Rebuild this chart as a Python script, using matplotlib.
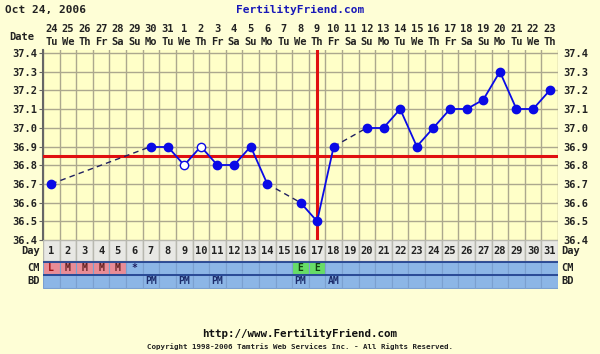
import matplotlib.pyplot as plt
import numpy as np

# cycle days and temperatures (Celsius)
cycle_days = np.arange(1, 32)
dates = [24, 25, 26, 27, 28, 29, 30, 31, 1, 2, 3, 4, 5, 6, 7, 8,
         9, 10, 11, 12, 13, 14, 15, 16, 17, 18, 19, 20, 21, 22, 23]
weekdays = ["Tu", "We", "Th", "Fr", "Sa", "Su", "Mo"] * 5
weekdays = weekdays[:31]

temp_days = [1, 7, 8, 9, 10, 11, 12, 13, 14, 16, 17, 18, 20, 21, 22, 23,
             24, 25, 26, 27, 28, 29, 30, 31]
temps = [36.7, 36.9, 36.9, 36.8, 36.9, 36.8, 36.8, 36.9, 36.7, 36.6, 36.5, 36.9,
         37.0, 37.0, 37.1, 36.9, 37.0, 37.1, 37.1, 37.15, 37.3, 37.1, 37.1, 37.2]
open_days = [9, 10]          # discarded temps (hollow markers)

coverline = 36.85
ovulation_day = 17

cm_days = [1, 2, 3, 4, 5, 6, 16, 17]
cm_text = ["L", "M", "M", "M", "M", "*", "E", "E"]
bd_days = [7, 9, 11, 16, 18]
bd_text = ["PM", "PM", "PM", "PM", "AM"]

temp_ticks = np.round(np.arange(36.4, 37.41, 0.1), 1)

bg = "#fefed6"
plot_bg = "#ffffc8"
grid_c = "#aca88e"
blue = "#0a0ae6"
red = "#e01010"
txt = "#222222"
mono = "DejaVu Sans Mono"
W, H = 600, 354

fig = plt.figure(figsize=(6, 3.54), dpi=100, facecolor=bg)

# main temperature chart
x0, x1 = 43, 558
y_top, y_bot = 49.5, 240
ax = fig.add_axes([x0 / W, 1 - y_bot / H, (x1 - x0) / W, (y_bot - y_top) / H])
ax.set_facecolor(plot_bg)
ax.set_xlim(0.5, 31.5)
ax.set_ylim(36.4, 36.4 + 0.1 * (y_bot - y_top) / 18.7)
for k in range(32):
    ax.axvline(k + 0.5, color=grid_c, lw=1, zorder=1)
for t in temp_ticks:
    ax.axhline(t, color=grid_c, lw=1, zorder=1)
for s in ["top", "right", "bottom"]:
    ax.spines[s].set_visible(False)
ax.spines["left"].set_color("#666666")
ax.spines["left"].set_linewidth(1.5)
ax.set_xticks([])
ax.set_yticks(temp_ticks)
ax.set_yticklabels([f"{t:.1f}" for t in temp_ticks])
ax.tick_params(axis="y", which="both", left=True, right=False, labelleft=True,
               labelright=True, length=3, color="#666666", pad=1)
for lab in ax.get_yticklabels():
    lab.set_fontfamily(mono)
    lab.set_fontweight("bold")
    lab.set_fontsize(7.5)
    lab.set_color(txt)

# coverline and ovulation line
ax.axhline(coverline, color=red, lw=2.2, zorder=3)
ax.axvline(ovulation_day, color=red, lw=2.2, zorder=3)

# temperature line: solid between consecutive days, dashed over gaps
for i in range(len(temp_days) - 1):
    xs = [temp_days[i], temp_days[i + 1]]
    ys = [temps[i], temps[i + 1]]
    if temp_days[i + 1] - temp_days[i] == 1:
        ax.plot(xs, ys, color=blue, lw=1.3, zorder=4)
    else:
        ax.plot(xs, ys, color="#202060", lw=1, ls=(0, (4, 3)), zorder=4)
for d, t in zip(temp_days, temps):
    if d in open_days:
        ax.plot(d, t, "o", ms=6, mfc="white", mec=blue, mew=1, zorder=5)
    else:
        ax.plot(d, t, "o", ms=6, color=blue, zorder=5)

# date header
xt = ax.get_xaxis_transform()
for d, dt, wd in zip(cycle_days, dates, weekdays):
    ax.text(d, 1 + 20 / (y_bot - y_top), str(dt), transform=xt, ha="center",
            va="center", fontsize=7.5, fontfamily=mono, fontweight="bold", color=txt)
    ax.text(d, 1 + 7 / (y_bot - y_top), wd, transform=xt, ha="center",
            va="center", fontsize=7.5, fontfamily=mono, fontweight="bold", color=txt)
fig.text(22 / W, 1 - 37 / H, "Date", ha="center", va="center", fontsize=7.5,
         fontfamily=mono, fontweight="bold", color=txt)

# bottom strip: Day / CM / BD rows (pixel-like units from top)
sb_top, sb_bot = 240, 289
sb = fig.add_axes([x0 / W, 1 - sb_bot / H, (x1 - x0) / W, (sb_bot - sb_top) / H])
sb.set_xlim(0.5, 31.5)
sb.set_ylim(sb_bot - sb_top, 0)
sb.axis("off")

day_row = (0, 21)
cm_row = (22, 34)
bd_row = (35, 48)

cm_colors = []
for d in cycle_days:
    if d in cm_days and cm_text[cm_days.index(d)] in ("L", "M"):
        cm_colors.append("#e98c96")
    elif d in cm_days and cm_text[cm_days.index(d)] == "E":
        cm_colors.append("#66dd66")
    else:
        cm_colors.append("#8cb6e6")

sb.bar(cycle_days, day_row[1] - day_row[0], bottom=day_row[0], width=1,
       color="#e8e8e4", edgecolor="#b8b8b0", lw=1)
sb.bar(cycle_days, cm_row[1] - cm_row[0], bottom=cm_row[0], width=1,
       color=cm_colors, edgecolor="#7aa0d0", lw=0.8)
sb.bar(cycle_days, bd_row[1] - bd_row[0], bottom=bd_row[0], width=1,
       color="#8cb6e6", edgecolor="#7aa0d0", lw=0.8)
for yy in [day_row[1] + 0.5, cm_row[1] + 0.5]:
    sb.axhline(yy, color="#1c3c8c", lw=1.2)

for d in cycle_days:
    sb.text(d, sum(day_row) / 2, str(d), ha="center", va="center", fontsize=7.5,
            fontfamily=mono, fontweight="bold", color=txt)
for d, s in zip(cm_days, cm_text):
    col = "#a01010" if s == "L" else ("#202060" if s == "*" else "#602020")
    if s == "E":
        col = "#104010"
    sb.text(d, sum(cm_row) / 2, s, ha="center", va="center", fontsize=7,
            fontfamily=mono, fontweight="bold", color=col)
for d, s in zip(bd_days, bd_text):
    sb.text(d, sum(bd_row) / 2, s, ha="center", va="center", fontsize=7,
            fontfamily=mono, fontweight="bold", color="#1c2c6c")

for lbl, row in [("Day", day_row), ("CM", cm_row), ("BD", bd_row)]:
    yy = 1 - (sb_top + sum(row) / 2) / H
    fig.text(40 / W, yy, lbl, ha="right", va="center", fontsize=7.5,
             fontfamily=mono, fontweight="bold", color=txt)
    fig.text(561 / W, yy, lbl, ha="left", va="center", fontsize=7.5,
             fontfamily=mono, fontweight="bold", color=txt)

# titles and footer
fig.text(5 / W, 1 - 10 / H, "Oct 24, 2006", ha="left", va="center", fontsize=8,
         fontfamily=mono, fontweight="bold", color=txt)
fig.text(300 / W, 1 - 10 / H, "FertilityFriend.com", ha="center", va="center",
         fontsize=8, fontfamily=mono, fontweight="bold", color="#1818b8")
fig.text(300 / W, 1 - 334 / H, "http://www.FertilityFriend.com", ha="center",
         va="center", fontsize=7.8, fontfamily=mono, fontweight="bold", color="#111111")
fig.text(300 / W, 1 - 347 / H,
         "Copyright 1998-2006 Tamtris Web Services Inc. - All Rights Reserved.",
         ha="center", va="center", fontsize=5.4, fontfamily=mono,
         fontweight="bold", color="#222222")

fig.savefig("out.png", dpi=100, facecolor=bg)
